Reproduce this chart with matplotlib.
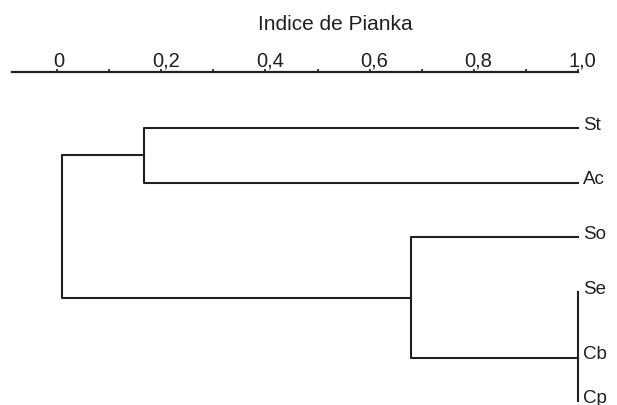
import matplotlib.pyplot as plt
import numpy as np

plt.rcParams['font.family'] = ['Liberation Sans', 'DejaVu Sans']

# Foglie del dendrogramma (ordine dall'alto verso il basso)
leaves = ['St', 'Ac', 'So', 'Se', 'Cb', 'Cp']
leaf_y = [0, 1, 2, 3, 4.2, 5.0]

# Livelli di unione (Indice de Pianka)
join_st_ac = 0.167
join_se_cb_cp = 1.0
join_so_group = 0.68
join_root = 0.01

tick_vals = np.arange(0, 1.01, 0.1)
tick_labels = ['0', '0,2', '0,4', '0,6', '0,8', '1,0']
label_vals = [0, 0.2, 0.4, 0.6, 0.8, 1.0]

col = '#231f20'
lw = 1.5

fig = plt.figure(figsize=(6.17, 4.06), dpi=100)
top = 1 - 72.5 / 406
ax = fig.add_axes([0, 0, 1, top])
ax.set_xlim(-57 / 521, 560 / 521)
ax.set_ylim(5.064, -1.033)

kw = dict(color=col, lw=lw, solid_capstyle='projecting', clip_on=False)

# St / Ac
ax.plot([1.0, join_st_ac, join_st_ac, 1.0], [leaf_y[0], leaf_y[0], leaf_y[1], leaf_y[1]], **kw)
# Se / Cb / Cp
ax.plot([join_se_cb_cp, join_se_cb_cp], [leaf_y[3], leaf_y[5]], **kw)
# So / (Se, Cb, Cp)
ax.plot([1.0, join_so_group, join_so_group, join_se_cb_cp], [leaf_y[2], leaf_y[2], leaf_y[4], leaf_y[4]], **kw)
# radice
y_a = (leaf_y[0] + leaf_y[1]) / 2
y_b = (leaf_y[2] + leaf_y[4]) / 2
ax.plot([join_st_ac, join_root, join_root, join_so_group], [y_a, y_a, y_b, y_b], **kw)

# Etichette delle foglie
for name, y in zip(leaves, leaf_y):
    ax.annotate(name, xy=(1.0, y - 0.07), xytext=(3.5, 0), textcoords='offset points',
                ha='left', va='center', fontsize=13.5, color=col)

# Asse superiore
for s in ['left', 'right', 'bottom']:
    ax.spines[s].set_visible(False)
ax.spines['top'].set_bounds(-0.086, 1.0)
ax.spines['top'].set_linewidth(1.6)
ax.spines['top'].set_color(col)
ax.set_yticks([])
ax.xaxis.tick_top()
ax.set_xticks(tick_vals)
ax.set_xticklabels([])
ax.tick_params(axis='x', direction='out', length=2.3, width=1.2, color=col)

for v, lbl in zip(label_vals, tick_labels):
    dx = 1.0 if lbl == '0' else 3.2
    ax.annotate(lbl, xy=(v, 1), xycoords=('data', 'axes fraction'), xytext=(dx, 4),
                textcoords='offset points', ha='center', va='baseline',
                fontsize=14.5, color=col, annotation_clip=False)

fig.text(335 / 617, 1 - 30 / 406, 'Indice de Pianka', ha='center', va='baseline',
         fontsize=15, color=col)

plt.savefig('out.png', dpi=100)
